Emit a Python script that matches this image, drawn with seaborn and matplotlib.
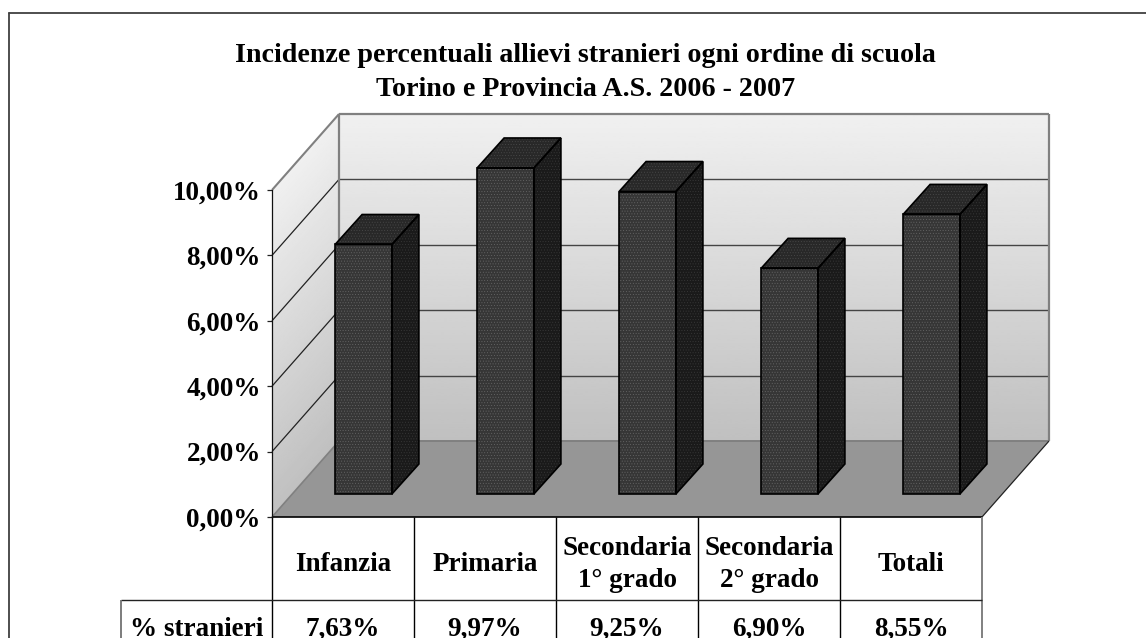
import numpy as np
import pandas as pd
import seaborn as sns
import matplotlib
matplotlib.use("Agg")
import matplotlib.pyplot as plt
from matplotlib.patches import Polygon
from matplotlib.transforms import Affine2D

categories = ["Infanzia", "Primaria", "Secondaria\n1° grado", "Secondaria\n2° grado", "Totali"]
values = [7.63, 9.97, 9.25, 6.90, 8.55]
value_labels = ["7,63%", "9,97%", "9,25%", "6,90%", "8,55%"]
row_label = "% stranieri"
y_ticks = [0, 2, 4, 6, 8, 10]
y_tick_labels = ["0,00%", "2,00%", "4,00%", "6,00%", "8,00%", "10,00%"]
title_lines = ["Incidenze percentuali allievi stranieri ogni ordine di scuola",
               "Torino e Provincia A.S. 2006 - 2007"]

W, H = 1146, 638
sns.set_style("white")
plt.rcParams["font.family"] = ["Liberation Serif", "DejaVu Serif"]
plt.rcParams["font.weight"] = "bold"
plt.rcParams["hatch.linewidth"] = 0.3
plt.rcParams["text.color"] = "black"
plt.rcParams["ytick.labelcolor"] = "black"
plt.rcParams["xtick.labelcolor"] = "black"

fig = plt.figure(figsize=(W / 100, H / 100), dpi=100, facecolor="white")
ax = fig.add_axes([272 / W, (H - 517) / H, 710 / W, 327 / H])
ax.set_facecolor("none")

df = pd.DataFrame({"cat": categories, "val": values})
sns.barplot(data=df, x="cat", y="val", ax=ax, width=0.4, color="#363636", saturation=1,
            edgecolor="#6a6a6a", linewidth=0, hatch="......", zorder=6)
ax.set_xlim(-0.5, 4.5)
ax.set_ylim(0, 10)
fig.canvas.draw()

DEPTH = np.array([67.0, 76.0])
BAR_OFF = np.array([20.5, 23.0])
BAR_DEPTH = np.array([27.0, 30.0])
shift = lambda v: ax.transData + Affine2D().translate(*v)
O = ax.transData.transform((-0.5, 0))
X1 = ax.transData.transform((4.5, 0))
T = ax.transData.transform((-0.5, 10))
u_x = X1 - O
u_y = T - O


def wall(origin, u, v):
    grad = np.linspace(0xF0, 0xC0, 128)[:, None] / 255.0
    tr = Affine2D(np.array([[u[0], v[0], origin[0]], [u[1], v[1], origin[1]], [0, 0, 1]]))
    im = ax.imshow(grad, cmap="gray", vmin=0, vmax=1, extent=(0, 1, 0, 1), origin="upper",
                   aspect="auto", interpolation="bilinear", zorder=0, clip_on=False)
    im.set_transform(tr)
    im.set_clip_on(False)


wall(O + DEPTH, u_x, u_y)
wall(O, DEPTH, u_y)
ax.set_xlim(-0.5, 4.5)
ax.set_ylim(0, 10)

line = lambda a, b, **kw: ax.plot([a[0], b[0]], [a[1], b[1]], transform=Affine2D(), clip_on=False,
                                  solid_capstyle="butt", **kw)

# floor
ax.add_patch(Polygon([O, X1, X1 + DEPTH, O + DEPTH], closed=True, transform=Affine2D(), clip_on=False,
                     facecolor="#969696", edgecolor="none", zorder=1))
# gridlines on walls
for t in y_ticks[1:]:
    p = ax.transData.transform((-0.5, t))
    col = "#808080" if t == 10 else "#222222"
    line(p, p + DEPTH, color=col, lw=1.5 if t == 10 else 0.9, zorder=2)
    line(p + DEPTH, p + DEPTH + u_x, color="#808080" if t == 10 else "#444444",
         lw=1.6 if t == 10 else 1.0, zorder=2)
line(O + DEPTH, O + DEPTH + u_y, color="#808080", lw=1.6, zorder=2)
line(X1 + DEPTH, X1 + DEPTH + u_y, color="#808080", lw=1.6, zorder=2)
line(O + DEPTH, X1 + DEPTH, color="#808080", lw=1.4, zorder=2)
line(O, O + DEPTH, color="#808080", lw=1.2, zorder=2)
line(X1, X1 + DEPTH, color="#222222", lw=0.9, zorder=2)
line(O, X1, color="black", lw=1.2, zorder=3)

# bars with depth
for bar in list(ax.patches):
    if not isinstance(bar, matplotlib.patches.Rectangle):
        continue
    bar.set_transform(shift(BAR_OFF))
    bar.set_clip_on(False)
    x0, x1 = bar.get_x(), bar.get_x() + bar.get_width()
    h = bar.get_height()
    a = ax.transData.transform((x0, 0)) + BAR_OFF
    b = ax.transData.transform((x1, 0)) + BAR_OFF
    c = ax.transData.transform((x1, h)) + BAR_OFF
    d = ax.transData.transform((x0, h)) + BAR_OFF
    faces = [([b, b + BAR_DEPTH, c + BAR_DEPTH, c], "#1a1a1a", "#3c3c3c", 5),
             ([d, c, c + BAR_DEPTH, d + BAR_DEPTH], "#282828", "#4c4c4c", 5)]
    for pts, fc, hc, z in faces:
        ax.add_patch(Polygon(pts, closed=True, transform=Affine2D(), clip_on=False, facecolor=fc,
                             edgecolor=hc, lw=0, hatch="......", zorder=z))
        ax.add_patch(Polygon(pts, closed=True, transform=Affine2D(), clip_on=False, fill=False,
                             edgecolor="black", lw=1.2, zorder=z + 2))
    ax.add_patch(Polygon([a, b, c, d], closed=True, transform=Affine2D(), clip_on=False, fill=False,
                         edgecolor="black", lw=1.2, zorder=7))

# axes
for s in ["top", "right", "bottom"]:
    ax.spines[s].set_visible(False)
ax.spines["left"].set_color("#111111")
ax.spines["left"].set_linewidth(0.9)
ax.spines["left"].set_zorder(4)
ax.set_xlabel("")
ax.set_ylabel("")
ax.set_yticks(y_ticks)
ax.set_yticklabels(y_tick_labels)
ax.tick_params(axis="y", length=3.6, width=0.9, color="#222222", pad=4.5, labelsize=19.5, left=True,
               labelcolor="black")
ax.set_xticks(range(len(categories)))
ax.set_xticklabels(categories, fontsize=19.5, fontweight="bold", linespacing=1.36, ha="center")
ax.tick_params(axis="x", length=0, pad=34.5, bottom=False, labelcolor="black")
for lab in ax.get_xticklabels():
    lab.set_va("center")

# data table
dy = lambda ypx: (517 - ypx) / 32.7
ax.vlines([i - 0.5 for i in range(5)], dy(638), 0, colors="black", lw=1.0, clip_on=False, zorder=3)
ax.vlines([4.5], dy(638), 0, colors="#808080", lw=1.4, clip_on=False, zorder=3)
xl = -0.5 - (272 - 121) / 142
ax.hlines([dy(600)], xl, 4.5, colors="#222222", lw=1.0, clip_on=False, zorder=3)
ax.vlines([xl], dy(638), dy(600), colors="#666666", lw=1.2, clip_on=False, zorder=3)
for i, s in enumerate(value_labels):
    ax.text(i, dy(636), s, ha="center", va="baseline", fontsize=19.5, fontweight="bold", clip_on=False)
ax.text((xl - 0.5) / 2, dy(636), row_label, ha="center", va="baseline", fontsize=19.5,
        fontweight="bold", clip_on=False)

# title
for s, yp in zip(title_lines, [56, 89]):
    fig.text(585.5 / W, 1 - yp / H, s, ha="center", va="center", fontsize=20.2, fontweight="bold")

# chart frame
fig.add_artist(plt.Line2D([9 / W, 9 / W], [0, 1 - 13 / H], color="#404040", lw=1.3))
fig.add_artist(plt.Line2D([9 / W, 1], [1 - 13 / H, 1 - 13 / H], color="#404040", lw=1.3))

fig.savefig("out.png", dpi=100)
